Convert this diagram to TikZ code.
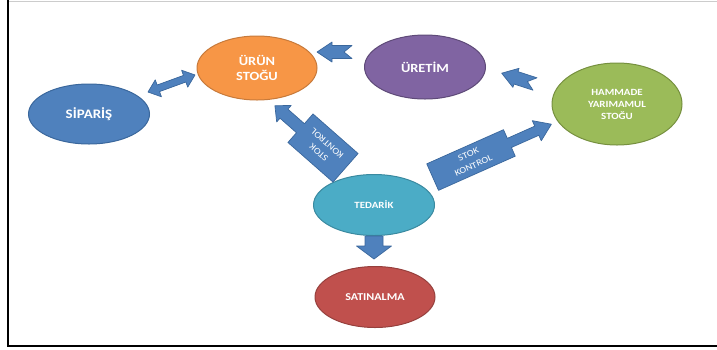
\documentclass[tikz,border=0pt]{standalone}
\usepackage{fontspec}
\newfontfamily\lblfont[FakeStretch=1.15]{Carlito}
\usetikzlibrary{shapes.geometric}

\definecolor{cblue}{HTML}{4F81BD}
\definecolor{cblueline}{HTML}{3A679C}
\definecolor{corange}{HTML}{F79646}
\definecolor{corangeline}{HTML}{C77A3B}
\definecolor{cpurple}{HTML}{8064A2}
\definecolor{cpurpleline}{HTML}{5E4A78}
\definecolor{cgreen}{HTML}{9BBB59}
\definecolor{cgreenline}{HTML}{76903F}
\definecolor{caqua}{HTML}{4BACC6}
\definecolor{caqualine}{HTML}{3A8AA0}
\definecolor{cred}{HTML}{C0504D}
\definecolor{credline}{HTML}{96403D}

\tikzset{
  oval/.style={ellipse, line width=1pt, inner sep=0pt, text=white, align=center},
  blockarr/.style={fill=cblue, draw=cblueline, line width=0.7pt, line join=round},
  calltext/.style={text=white, inner sep=0pt, align=center,
    font=\lblfont\fontsize{9}{12.5}\selectfont},
  notcharrow/.pic={
    \draw[blockarr] (0,6.5) -- (20,6.5) -- (20,10) -- (35,0) -- (20,-10)
      -- (20,-6.5) -- (0,-6.5) -- (8,0) -- cycle;
  },
  downarr/.pic={
    \draw[blockarr] (0,9) -- (10,9) -- (10,17.5) -- (23,0) -- (10,-17.5)
      -- (10,-9) -- (0,-9) -- cycle;
  },
  bothwayarr/.pic={
    \draw[blockarr] (-25,0) -- (-14,9) -- (-14,3.5) -- (14,3.5) -- (14,9)
      -- (25,0) -- (14,-9) -- (14,-3.5) -- (-14,-3.5) -- (-14,-9) -- cycle;
  },
}

\begin{document}
\begin{tikzpicture}[x=1pt,y=-1pt]
\useasboundingbox (0,0) rectangle (717,349);
\draw[black!20, line width=1pt] (8,1) -- (717,1);
\draw[line width=1.5pt] (8,0) -- (8,346) -- (717,346);

\node[oval, fill=cblue, draw=cblueline, minimum width=121pt, minimum height=60pt,
  font=\lblfont\bfseries\fontsize{13}{15}\selectfont] (siparis) at (89,114) {SİPARİŞ};
\node[oval, fill=corange, draw=corangeline, minimum width=120pt, minimum height=64pt,
  font=\lblfont\bfseries\fontsize{12.5}{15}\selectfont] (urunstok) at (257,68) {ÜRÜN\\STOĞU};
\node[oval, fill=cpurple, draw=cpurpleline, minimum width=121pt, minimum height=64pt,
  font=\lblfont\bfseries\fontsize{12.5}{15}\selectfont] (uretim) at (425,67) {ÜRETİM};
\node[oval, fill=cgreen, draw=cgreenline, minimum width=130pt, minimum height=82pt,
  font=\lblfont\bfseries\fontsize{9.5}{12}\selectfont] (hammadde) at (617,104) {HAMMADE\\YARIMAMUL\\STOĞU};
\node[oval, fill=caqua, draw=caqualine, minimum width=121pt, minimum height=61pt,
  font=\lblfont\bfseries\fontsize{9.5}{12}\selectfont] (tedarik) at (374,205) {TEDARİK};
\node[oval, fill=cred, draw=credline, minimum width=120pt, minimum height=61pt,
  font=\lblfont\bfseries\fontsize{10.5}{12}\selectfont] (satinalma) at (375,297) {SATINALMA};

\pic[rotate=180] at (352,52) {notcharrow};
\pic[rotate=162] at (535,84) {notcharrow};
\pic[rotate=20] at (171.5,83.5) {bothwayarr};
\pic[rotate=-90] at (tedarik.south) {downarr};

\begin{scope}[shift={(323,148)}, rotate=138.7]
\draw[blockarr] (-30,-19) -- (30,-19) -- (30,-6) -- (52,-6) -- (52,-11) -- (64,0)
  -- (52,11) -- (52,6) -- (30,6) -- (30,19) -- (-30,19) -- cycle;
\node[calltext, transform shape] (kontrolsol) at (0,0) {STOK\\KONTROL};
\end{scope}

\begin{scope}[shift={(471,160)}, rotate=24]
\draw[blockarr] (-42,-14.5) -- (42,-14.5) -- (42,-5) -- (72,-5) -- (72,-11) -- (88,0)
  -- (72,11) -- (72,5) -- (42,5) -- (42,14.5) -- (-42,14.5) -- cycle;
\node[calltext, transform shape] (kontrolsag) at (0,0) {STOK\\KONTROL};
\end{scope}
\end{tikzpicture}
\end{document}
